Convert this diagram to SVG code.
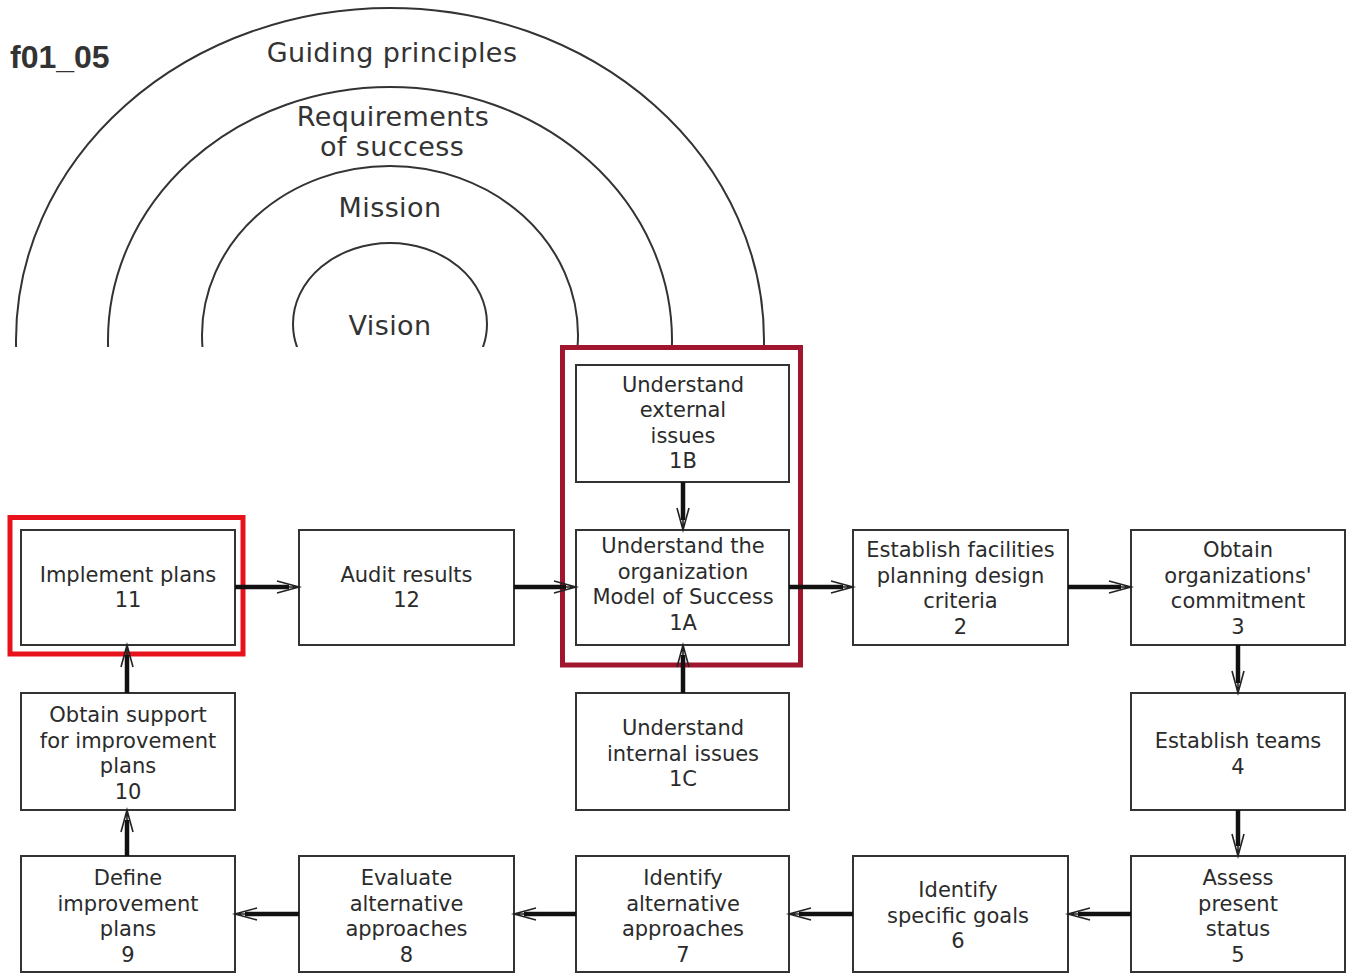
<svg xmlns="http://www.w3.org/2000/svg" width="1346" height="974" viewBox="0 0 1346 974">
<style>
.box{fill:#fff;stroke:#333;stroke-width:2}
.t{font-family:"DejaVu Sans",sans-serif;font-size:21px;fill:#2b2b2b;text-anchor:middle}
.arc{fill:none;stroke:#333;stroke-width:2}
.al{font-family:"DejaVu Sans",sans-serif;font-size:27px;fill:#333;text-anchor:middle;letter-spacing:0.4px}
.sh{stroke:#111;stroke-width:4.5;fill:none;marker-end:url(#ah)}
</style>
<defs>
<clipPath id="clipArcs"><rect x="0" y="0" width="1346" height="347"/></clipPath>
<marker id="ah" markerUnits="userSpaceOnUse" viewBox="-20 -7 32 14" markerWidth="32" markerHeight="14" refX="0" refY="0" orient="auto" overflow="visible">
<path d="M0,0 L10,0 M-12,-6 L10,0 L-12,6" fill="none" stroke="#222" stroke-width="1.6"/>
</marker>
</defs>
<rect width="1346" height="974" fill="#fff"/>
<text x="10" y="68" style="font-family:'Liberation Sans',Arial,sans-serif;font-weight:bold;font-size:32px;fill:#333">f01_05</text>
<g id="arcs" clip-path="url(#clipArcs)">
<ellipse class="arc" cx="390" cy="340" rx="374" ry="332"/>
<ellipse class="arc" cx="390" cy="340" rx="282" ry="253"/>
<ellipse class="arc" cx="390" cy="335" rx="188" ry="169"/>
<ellipse class="arc" cx="390" cy="324" rx="97" ry="81"/>
</g>
<g id="arc-labels">
<text class="al" x="392" y="62">Guiding principles</text>
<text class="al" x="393" y="126">Requirements</text>
<text class="al" x="392" y="156">of success</text>
<text class="al" x="390" y="217">Mission</text>
<text class="al" x="390" y="335">Vision</text>
</g>
<g id="n1B"><rect class="box" x="576" y="365" width="213" height="117"/>
<text class="t" x="683" y="391.5">Understand</text><text class="t" x="683" y="417">external</text><text class="t" x="683" y="442.5">issues</text><text class="t" x="683" y="468">1B</text></g>
<g id="n11"><rect class="box" x="21" y="530" width="214" height="115"/>
<text class="t" x="128" y="581.5">Implement plans</text><text class="t" x="128" y="607">11</text></g>
<g id="n12"><rect class="box" x="299" y="530" width="215" height="115"/>
<text class="t" x="406.5" y="581.5">Audit results</text><text class="t" x="406.5" y="607">12</text></g>
<g id="n1A"><rect class="box" x="576" y="530" width="213" height="115"/>
<text class="t" x="683" y="553">Understand the</text><text class="t" x="683" y="578.5">organization</text><text class="t" x="683" y="604">Model of Success</text><text class="t" x="683" y="629.5">1A</text></g>
<g id="n2"><rect class="box" x="853" y="530" width="215" height="115"/>
<text class="t" x="960.5" y="557">Establish facilities</text><text class="t" x="960.5" y="582.5">planning design</text><text class="t" x="960.5" y="608">criteria</text><text class="t" x="960.5" y="633.5">2</text></g>
<g id="n3"><rect class="box" x="1131" y="530" width="214" height="115"/>
<text class="t" x="1238" y="557">Obtain</text><text class="t" x="1238" y="582.5">organizations'</text><text class="t" x="1238" y="608">commitment</text><text class="t" x="1238" y="633.5">3</text></g>
<g id="n10"><rect class="box" x="21" y="693" width="214" height="117"/>
<text class="t" x="128" y="722">Obtain support</text><text class="t" x="128" y="747.5">for improvement</text><text class="t" x="128" y="773">plans</text><text class="t" x="128" y="798.5">10</text></g>
<g id="n1C"><rect class="box" x="576" y="693" width="213" height="117"/>
<text class="t" x="683" y="735">Understand</text><text class="t" x="683" y="760.5">internal issues</text><text class="t" x="683" y="786">1C</text></g>
<g id="n4"><rect class="box" x="1131" y="693" width="214" height="117"/>
<text class="t" x="1238" y="748">Establish teams</text><text class="t" x="1238" y="774">4</text></g>
<g id="n9"><rect class="box" x="21" y="856" width="214" height="116"/>
<text class="t" x="128" y="885">Define</text><text class="t" x="128" y="910.5">improvement</text><text class="t" x="128" y="936">plans</text><text class="t" x="128" y="961.5">9</text></g>
<g id="n8"><rect class="box" x="299" y="856" width="215" height="116"/>
<text class="t" x="406.5" y="885">Evaluate</text><text class="t" x="406.5" y="910.5">alternative</text><text class="t" x="406.5" y="936">approaches</text><text class="t" x="406.5" y="961.5">8</text></g>
<g id="n7"><rect class="box" x="576" y="856" width="213" height="116"/>
<text class="t" x="683" y="885">Identify</text><text class="t" x="683" y="910.5">alternative</text><text class="t" x="683" y="936">approaches</text><text class="t" x="683" y="961.5">7</text></g>
<g id="n6"><rect class="box" x="853" y="856" width="215" height="116"/>
<text class="t" x="958" y="897">Identify</text><text class="t" x="958" y="922.5">specific goals</text><text class="t" x="958" y="948">6</text></g>
<g id="n5"><rect class="box" x="1131" y="856" width="214" height="116"/>
<text class="t" x="1238" y="885">Assess</text><text class="t" x="1238" y="910.5">present</text><text class="t" x="1238" y="936">status</text><text class="t" x="1238" y="961.5">5</text></g>
<g id="highlights" fill="none">
<rect x="10" y="517.5" width="233" height="136.5" stroke="#E8121C" stroke-width="5"/>
<rect x="562.5" y="347.5" width="238" height="317.5" stroke="#A0162F" stroke-width="5"/>
</g>
<g id="connectors">
<line class="sh" x1="235" y1="587" x2="289" y2="587"/>
<line class="sh" x1="514" y1="587" x2="566" y2="587"/>
<line class="sh" x1="789" y1="587" x2="843" y2="587"/>
<line class="sh" x1="1068" y1="587" x2="1121" y2="587"/>
<line class="sh" x1="1238" y1="645" x2="1238" y2="683"/>
<line class="sh" x1="1238" y1="810" x2="1238" y2="846"/>
<line class="sh" x1="1131" y1="914" x2="1078" y2="914"/>
<line class="sh" x1="853" y1="914" x2="799" y2="914"/>
<line class="sh" x1="576" y1="914" x2="524" y2="914"/>
<line class="sh" x1="299" y1="914" x2="245" y2="914"/>
<line class="sh" x1="127" y1="856" x2="127" y2="820"/>
<line class="sh" x1="127" y1="693" x2="127" y2="655"/>
<line class="sh" x1="683" y1="482" x2="683" y2="520"/>
<line class="sh" x1="683" y1="693" x2="683" y2="655"/>
</g>
</svg>
